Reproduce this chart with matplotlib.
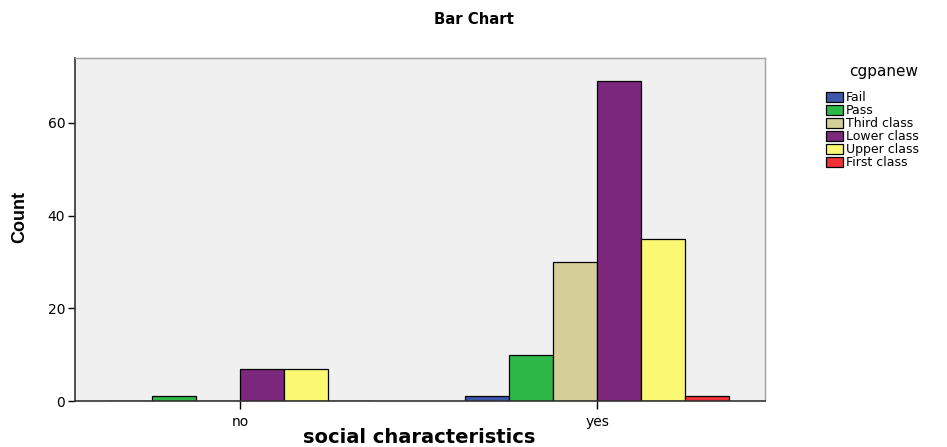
import matplotlib
matplotlib.use("Agg")
import matplotlib.pyplot as plt
import numpy as np
from matplotlib.patches import Patch

categories = ["no", "yes"]
groups = ["Fail", "Pass", "Third class", "Lower class", "Upper class", "First class"]
fail = [0, 1]
pass_ = [1, 10]
third = [0, 30]
lower = [7, 69]
upper = [7, 35]
first = [0, 1]
colors = ["#3D57AB", "#2EB848", "#D4CF98", "#7B287D", "#FBF874", "#EE3237"]

series = [fail, pass_, third, lower, upper, first]

plt.rcParams["font.family"] = ["DejaVu Sans"]

fig = plt.figure(figsize=(9.47, 4.47), dpi=100)
ax = fig.add_axes([0.0792, 0.1029, 0.7288, 0.7673])
ax.set_facecolor("#F0F0F0")

x = np.arange(len(categories))
w = 0.123
for i, vals in enumerate(series):
    ax.bar(x + (i - 2.5) * w, vals, width=w, color=colors[i],
           edgecolor="black", linewidth=0.9, align="center")

ax.set_xlim(-0.462, 1.47)
ax.set_ylim(0, 74)
ax.set_xticks(x)
ax.set_xticklabels(categories, fontsize=10)
ax.set_yticks([0, 20, 40, 60])
ax.tick_params(axis="y", labelsize=10, length=5, width=1, direction="out", pad=2)
ax.tick_params(axis="x", length=6, width=1, direction="out", pad=4)

for s in ["top", "right"]:
    ax.spines[s].set_color("#A0A0A0")
    ax.spines[s].set_linewidth(1)
ax.spines["left"].set_color("#333333")
ax.spines["bottom"].set_color("#333333")
ax.spines["left"].set_linewidth(1.2)
ax.spines["bottom"].set_linewidth(1.2)

fig.text(0.5, 0.957, "Bar Chart", ha="center", va="center",
         fontsize=10.7, fontweight="bold")
fig.text(0.443, 0.022, "social characteristics", ha="center", va="center",
         fontsize=14, fontweight="bold")
fig.text(0.021, 0.515, "Count", ha="center", va="center", rotation=90,
         fontsize=13, fontweight="bold",
         family=["Liberation Sans", "DejaVu Sans"])

# legend title drawn separately so the gap matches
fig.text(0.933, 0.839, "cgpanew", ha="center", va="center", fontsize=11)
handles = [Patch(facecolor=c, edgecolor="black", linewidth=0.9) for c in colors]
leg = fig.legend(handles, groups, loc="upper left",
                 bbox_to_anchor=(0.866, 0.81), frameon=False, fontsize=9,
                 handlelength=1.3, handleheight=0.85,
                 handletextpad=0.25, labelspacing=0.0, borderpad=0)

fig.savefig("out.png", dpi=100)
